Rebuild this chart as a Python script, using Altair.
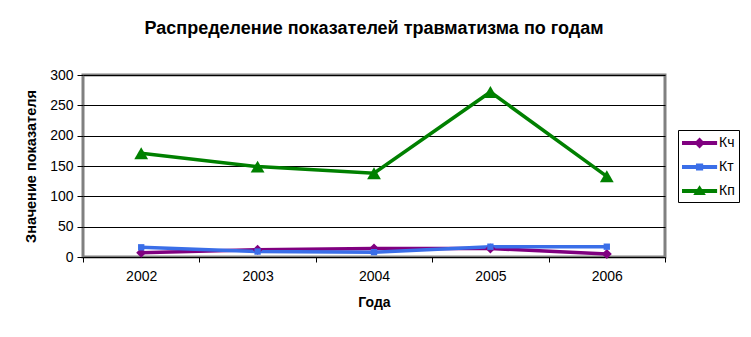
import altair as alt
import pandas as pd

years = ["2002", "2003", "2004", "2005", "2006"]
series_names = ["Кч", "Кт", "Кп"]
kch = [7, 12, 14, 14, 5]
kt = [16, 9, 8, 17, 17]
kp = [171, 149, 138, 272, 133]
colors = ["#800080", "#3A6EE8", "#008000"]
plot_shapes = ["diamond", "square", "triangle-up"]
marker_sizes = [100, 40, 190]

legend_paths = [
    "M-1,-0.22H2.9V0.22H-1Z M0.95,-0.6L1.55,0L0.95,0.6L0.35,0Z",
    "M-1,-0.22H2.9V0.22H-1Z M0.55,-0.4H1.35V0.4H0.55Z",
    "M-1,-0.22H2.9V0.22H-1Z M0.95,-0.65L1.65,0.45H0.25Z",
]

rows = []
for name, vals in zip(series_names, [kch, kt, kp]):
    for y, v in zip(years, vals):
        rows.append({"year": y, "series": name, "value": v})
df = pd.DataFrame(rows)

font = "Liberation Sans"

x_enc = alt.X(
    "year:O",
    scale=alt.Scale(type="band", paddingInner=0, paddingOuter=0),
    bandPosition=0.5,
    axis=alt.Axis(
        title="Года", tickBand="extent", labelAngle=0, domain=False,
        tickColor="black", tickSize=5, labelFontSize=14, labelFont=font,
        labelColor="black", labelPadding=7, titleFont=font, titleFontSize=14,
        titleFontWeight="bold", titleColor="black", titlePadding=12,
    ),
)
y_enc = alt.Y(
    "value:Q",
    scale=alt.Scale(domain=[0, 300], nice=False),
    axis=alt.Axis(
        title="Значение показателя", values=[0, 50, 100, 150, 200, 250, 300],
        grid=True, gridColor="black", gridWidth=1, domain=False,
        tickColor="black", tickSize=6, labelFontSize=14, labelFont=font,
        labelColor="black", labelPadding=4, titleFont=font, titleFontSize=14.5,
        titleFontWeight="bold", titleColor="black", titlePadding=11,
    ),
)
color_scale = alt.Scale(domain=series_names, range=colors)

base = alt.Chart(df)

layers = []
for name, col in zip(series_names, colors):
    layers.append(
        base.transform_filter(alt.datum.series == name)
        .mark_line(strokeWidth=3.5, color=col)
        .encode(x=x_enc, y=y_enc)
    )
for name, col, shp, sz in zip(series_names, colors, plot_shapes, marker_sizes):
    layers.append(
        base.transform_filter(alt.datum.series == name)
        .mark_point(filled=True, shape=shp, size=sz, opacity=1, color=col)
        .encode(x=x_enc, y=y_enc)
    )

leg = alt.Legend(
    title=None, orient="none", legendX=595, legendY=55,
    strokeColor="black", padding=4,
    symbolSize=324, symbolStrokeWidth=0, labelOffset=19,
    labelFont=font, labelFontSize=14, labelColor="black",
    rowPadding=8, symbolOpacity=1,
)

legend_layer = base.mark_point(filled=True, clip=True, opacity=1, strokeWidth=0).encode(
    x=x_enc,
    y=alt.value(-1000),
    color=alt.Color("series:N", scale=color_scale, legend=leg),
    shape=alt.Shape(
        "series:N",
        scale=alt.Scale(domain=series_names, range=legend_paths),
        legend=leg,
    ),
)
layers.append(legend_layer)

chart = (
    alt.layer(*layers)
    .properties(
        width=582, height=182,
        title=alt.TitleParams(
            "Распределение показателей травматизма по годам",
            font=font, fontSize=18, fontWeight="bold", color="black",
            anchor="middle", offset=30,
        ),
        padding={"left": 83, "top": 75, "right": 86, "bottom": 80},
        autosize=alt.AutoSizeParams(type="none"),
        background="white",
    )
    .configure_view(stroke="#808080", strokeWidth=3)
)

chart.save("out.html", embed_options={"renderer": "svg", "actions": False})
